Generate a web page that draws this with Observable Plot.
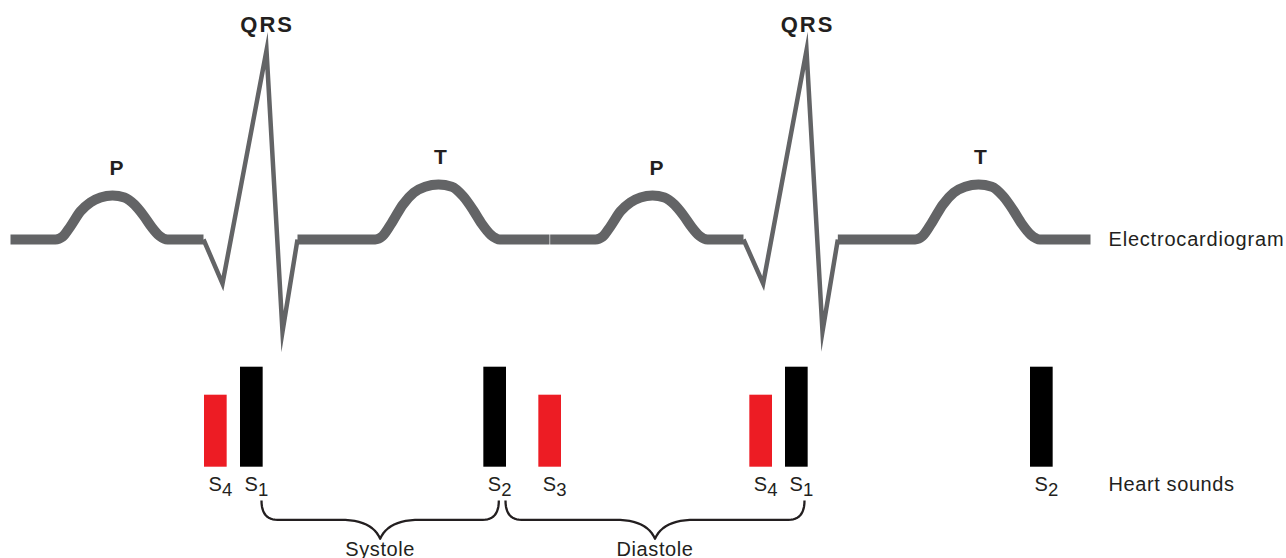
<!DOCTYPE html>
<html><head><meta charset="utf-8">
<script src="https://cdn.jsdelivr.net/npm/d3@7"></script>
<script src="https://cdn.jsdelivr.net/npm/@observablehq/plot@0.6"></script>
<style>
html,body{margin:0;padding:0;background:#fff;}
#chart svg{display:block;overflow:visible;background:#fff;}
</style></head><body><div id="chart"></div>
<script>
// ---- ECG trace: time (ms) and amplitude (mV), grouped in segments ----
const ecgSeg = [
  "w1","w1","w1","w1","w1","w1","w1","w1","w1","w1","w1","w1","w1","w1","w1",
  "q1","q1","q1","q1","q1",
  "w2","w2","w2","w2","w2","w2","w2","w2","w2","w2","w2","w2","w2","w2","w2",
  "w3","w3","w3","w3","w3","w3","w3","w3","w3","w3","w3","w3","w3","w3","w3",
  "q2","q2","q2","q2","q2",
  "w4","w4","w4","w4","w4","w4","w4","w4","w4","w4","w4","w4","w4","w4","w4"
];
const ecgTimeMs = [
  0,67.5,78,90,105,120,135,153,171,186,199.5,211.5,223.5,235.5,289.5,
  289.5,318,384,408,430.5,
  430.5,547,558,572,588.5,605,622,642,662,679,694,707,721,734,808.5,
  809.5,877.5,888,900,915,930,945,963,981,996,1009.5,1021.5,1033.5,1045.5,1099.5,
  1099.5,1129,1194,1218,1241,
  1241,1357,1368,1382,1398.5,1415,1432,1452,1472,1489,1504,1517,1531,1544,1620
];
const ecgMv = [
  0,0,0.022,0.11,0.235,0.31,0.35,0.367,0.35,0.29,0.2,0.105,0.03,0,0,
  0,-0.367,1.575,-0.767,0,
  0,0,0.028,0.14,0.29,0.39,0.44,0.458,0.44,0.36,0.245,0.13,0.036,0,0,
  0,0,0.022,0.11,0.235,0.31,0.35,0.367,0.35,0.29,0.2,0.105,0.03,0,0,
  0,-0.367,1.575,-0.767,0,
  0,0,0.028,0.14,0.29,0.39,0.44,0.458,0.44,0.36,0.245,0.13,0.036,0,0
];

// ---- wave labels ----
const waveName = ["P","QRS","T","P","QRS","T"];
const waveLabelMs = [159,385,645,969,1195.5,1455];
const wavePeakMv = [0.367,1.575,0.458,0.367,1.575,0.458];

// ---- heart sounds ----
const soundSub = ["4","1","2","3","4","1","2"];
const soundKind = ["extra","normal","normal","extra","extra","normal","normal"];
const soundOnsetMs = [291,345,710,792.5,1109,1162.5,1530];
const soundDurMs = [34,34,34,34,34,34,34];
const soundAmp = [0.72,1,1,0.72,0.72,1,1];

// ---- phases ----
const phaseName = ["Systole","Diastole"];
const phaseStartMs = [376.5,742.5];
const phaseEndMs = [732.5,1191];

// ---- row labels ----
const rowLabels = ["Electrocardiogram","Heart sounds"];

const W = 1286;
const FONT = "'Liberation Sans', Arial, Helvetica, sans-serif";
const INK = "#231f20";
const ECG_GRAY = "#636466";
const RED = "#ed1c24";

const ecg = ecgTimeMs.map((t, i) => ({t, mv: ecgMv[i], seg: ecgSeg[i]}));
const thick = ecg.filter(d => d.seg[0] === "w");
const thin = ecg.filter(d => d.seg[0] === "q");
const labels = waveName.map((name, i) => ({name, t: waveLabelMs[i], mv: wavePeakMv[i]}));
const ecgEnd = d3.max(ecgTimeMs);
const rowLabelT = ecgEnd + 27;

const xOpt = {domain: [-15, 1914], range: [0, W], axis: null};

const topPlot = Plot.plot({
  width: W, height: 358, margin: 0,
  x: xOpt,
  y: {domain: [-1, 2], range: [359, -1], axis: null},
  marks: [
    Plot.line(thick, {x: "t", y: "mv", z: "seg", curve: "monotone-x", stroke: ECG_GRAY,
      strokeWidth: 10, strokeLinecap: "butt", strokeLinejoin: "round"}),
    Plot.line(thin, {x: "t", y: "mv", z: "seg", curve: "linear", stroke: ECG_GRAY,
      strokeWidth: 4.5, strokeLinecap: "butt", strokeLinejoin: "miter", strokeMiterlimit: 20}),
    Plot.text(labels.filter(d => d.name !== "QRS"), {x: "t", y: "mv", text: "name", dy: -27,
      fontWeight: "bold", fontSize: 21, fill: INK, fontFamily: FONT}),
    Plot.text(labels.filter(d => d.name === "QRS"), {x: "t", y: "mv", text: "name", dy: -26,
      fontWeight: "bold", fontSize: 22, fill: INK, fontFamily: FONT}),
    Plot.text([rowLabels[0]], {x: () => rowLabelT, y: () => 0, text: d => d, textAnchor: "start",
      fontSize: 20, fill: INK, fontFamily: FONT})
  ]
});

const sounds = soundSub.map((digit, i) => ({digit, kind: soundKind[i], t0: soundOnsetMs[i],
  t1: soundOnsetMs[i] + soundDurMs[i], amp: soundAmp[i]}));

// brace geometry (layout constants, in the lower panel's y units)
const BRACE_TOP = -0.333, BRACE_MID = -0.526, BRACE_TIP = -0.716;
const CURL = 24, TIPRUN = 60, TIPCTRL = 12;
function quad(p0, p1, p2, n = 12) {
  const pts = [];
  for (let k = 0; k <= n; k++) {
    const u = k / n;
    pts.push([(1-u)*(1-u)*p0[0] + 2*(1-u)*u*p1[0] + u*u*p2[0],
              (1-u)*(1-u)*p0[1] + 2*(1-u)*u*p1[1] + u*u*p2[1]]);
  }
  return pts;
}
const bracePts = [];
phaseName.forEach((name, i) => {
  const a = phaseStartMs[i], b = phaseEndMs[i], m = (a + b) / 2;
  const pts = [
    ...quad([a, BRACE_TOP], [a, BRACE_MID], [a + CURL, BRACE_MID]),
    ...quad([m - TIPRUN, BRACE_MID], [m - TIPCTRL, BRACE_MID], [m, BRACE_TIP]),
    ...quad([m, BRACE_TIP], [m + TIPCTRL, BRACE_MID], [m + TIPRUN, BRACE_MID]),
    ...quad([b - CURL, BRACE_MID], [b, BRACE_MID], [b, BRACE_TOP])
  ];
  pts.forEach(p => bracePts.push({name, t: p[0], v: p[1]}));
});
const phases = phaseName.map((name, i) => ({name, t: (phaseStartMs[i] + phaseEndMs[i]) / 2}));

const bottomPlot = Plot.plot({
  width: W, height: 200, margin: 0,
  x: xOpt,
  y: {domain: [-0.913, 1.087], range: [200, 0], axis: null},
  color: {domain: ["normal", "extra"], range: ["#000000", RED]},
  marks: [
    Plot.rect(sounds, {x1: "t0", x2: "t1", y1: () => 0, y2: "amp", fill: "kind"}),
    Plot.text(sounds, {x: "t0", y: () => 0, text: () => "S", textAnchor: "start", dx: 4, dy: 17,
      fontSize: 20, fill: INK, fontFamily: FONT}),
    Plot.text(sounds, {x: "t0", y: () => 0, text: "digit", textAnchor: "start", dx: 17.5, dy: 22.5,
      fontSize: 18.5, fill: INK, fontFamily: FONT}),
    Plot.line(bracePts, {x: "t", y: "v", z: "name", curve: "linear", stroke: INK, strokeWidth: 2.3,
      strokeLinejoin: "round", strokeLinecap: "butt"}),
    Plot.text(phases, {x: "t", y: () => BRACE_TIP, text: "name", dy: 11, fontSize: 20, fill: INK,
      fontFamily: FONT}),
    Plot.text([rowLabels[1]], {x: () => rowLabelT, y: () => 0, text: d => d, textAnchor: "start",
      dy: 17, fontSize: 20, fill: INK, fontFamily: FONT})
  ]
});

const chart = document.getElementById("chart");
chart.appendChild(topPlot);
chart.appendChild(bottomPlot);

// letter spacing tweaks
const spacing = {"Electrocardiogram": "0.8px", "Heart sounds": "0.6px", "Systole": "0.6px",
  "Diastole": "0.6px", "QRS": "2px"};
d3.selectAll("#chart text").each(function() {
  const s = spacing[this.textContent];
  if (s) this.setAttribute("letter-spacing", s);
});
</script>
</body></html>
